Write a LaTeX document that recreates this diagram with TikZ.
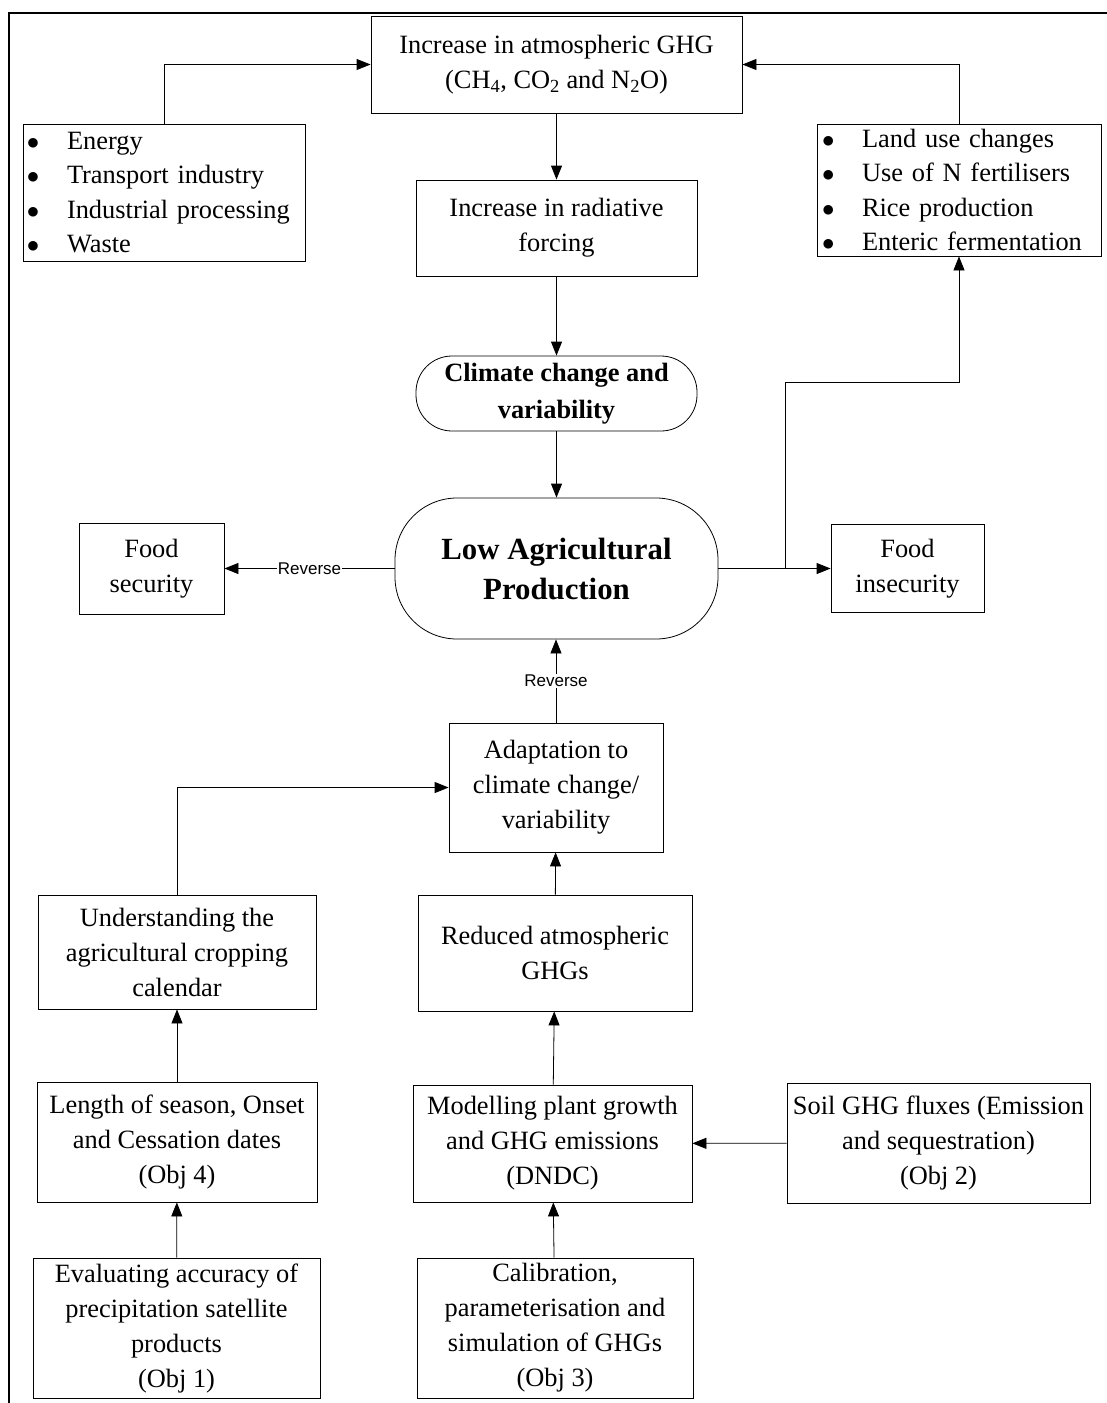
\documentclass[tikz,border=0pt]{standalone}
\usepackage{fontspec}
\setmainfont{Liberation Serif}
\newfontfamily\revfont{Liberation Sans}
\usetikzlibrary{arrows.meta}
\newcommand{\itembul}[1]{\makebox[#1][l]{$\bullet$}}

\begin{document}
\begin{tikzpicture}[x=1pt, y=-1pt, >={Triangle[length=14pt,width=11pt]}, thick,
  box/.style={draw, rectangle, align=center, font=\fontsize{26.4}{35}\selectfont},
  pill/.style={draw, rectangle, rounded corners=#1, align=center},
  rev/.style={fill=white, inner sep=1pt, font=\revfont\fontsize{17}{20}\selectfont}]
\useasboundingbox (0,0) rectangle (1107,1403);
\draw[line width=2pt] (9,1403) -- (9,12.5) -- (1107,12.5);

\node[box, minimum width=371pt, minimum height=97pt] (g) at (556.5,64.5) {Increase in atmospheric GHG\\(CH\textsubscript{4}, CO\textsubscript{2} and N\textsubscript{2}O)};
\node[box, align=left, text width=274pt, inner xsep=4pt, minimum height=137pt, font=\fontsize{26.4}{34.3}\selectfont] (l) at (164,192.5) {\itembul{40pt}Energy\\\itembul{40pt}Transport industry\\\itembul{40pt}Industrial processing\\\itembul{40pt}Waste};
\node[box, align=left, text width=274pt, inner xsep=5pt, minimum height=132pt, font=\fontsize{26.4}{34.3}\selectfont] (r) at (959,190) {\itembul{40pt}Land use changes\\\itembul{40pt}Use of N fertilisers\\\itembul{40pt}Rice production\\\itembul{40pt}Enteric fermentation};
\node[box, minimum width=281pt, minimum height=96pt] (f) at (556.5,228) {Increase in radiative\\forcing};
\node[pill=36pt, minimum width=281pt, minimum height=75pt, font=\bfseries\fontsize{26.4}{37}\selectfont] (c) at (556.5,393.5) {Climate change and\\variability};
\node[pill=62pt, minimum width=323pt, minimum height=141pt, font=\bfseries\fontsize{30.8}{40}\selectfont] (p) at (556.5,568.5) {Low Agricultural\\Production};
\node[box, minimum width=145pt, minimum height=91pt] (s) at (151.5,568.5) {Food\\security};
\node[box, minimum width=153pt, minimum height=88pt] (i) at (907.5,568.5) {Food\\insecurity};
\node[box, minimum width=214pt, minimum height=129pt] (a) at (556,787.5) {Adaptation to\\climate change/\\variability};
\node[box, minimum width=278pt, minimum height=114pt] (u) at (177,952) {Understanding the\\agricultural cropping\\calendar};
\node[box, minimum width=274pt, minimum height=116pt] (d) at (555,953) {Reduced atmospheric\\GHGs};
\node[box, minimum width=280pt, minimum height=120pt] (n) at (177,1142) {Length of season, Onset\\and Cessation dates\\(Obj 4)};
\node[box, minimum width=279pt, minimum height=117pt] (m) at (552.5,1143.5) {Modelling plant growth\\and GHG emissions\\(DNDC)};
\node[box, minimum width=303pt, minimum height=120pt, inner xsep=4pt] (o) at (938.5,1143) {Soil GHG fluxes (Emission\\and sequestration)\\(Obj 2)};
\node[box, minimum width=287pt, minimum height=140pt] (e) at (176.5,1328) {Evaluating accuracy of\\precipitation satellite\\products\\(Obj 1)};
\node[box, minimum width=276pt, minimum height=140pt] (k) at (555,1328) {Calibration,\\parameterisation and\\simulation of GHGs\\(Obj 3)};

\coordinate (j) at (785,568.5);
\coordinate (h) at (785,382);

\draw[->] (l.north) |- (g.west);
\draw[->] (r.north) |- (g.east);
\draw[->] (g) -- (f);
\draw[->] (f) -- (c);
\draw[->] (c) -- (p);
\draw[->] (p) -- node[rev] {Reverse} (s);
\draw[->] (p) -- (i);
\draw[->] (j) -- (h) -| (r.south);
\draw[->] (a) -- node[rev] {Reverse} (a |- p.south);
\draw[->] (u.north) |- (a.west);
\draw[->] (d) -- (a);
\draw[->] (m) -- (d);
\draw[->] (k) -- (m);
\draw[->] (n) -- (u);
\draw[->] (e) -- (n);
\draw[->] (o) -- (m);
\end{tikzpicture}
\end{document}
